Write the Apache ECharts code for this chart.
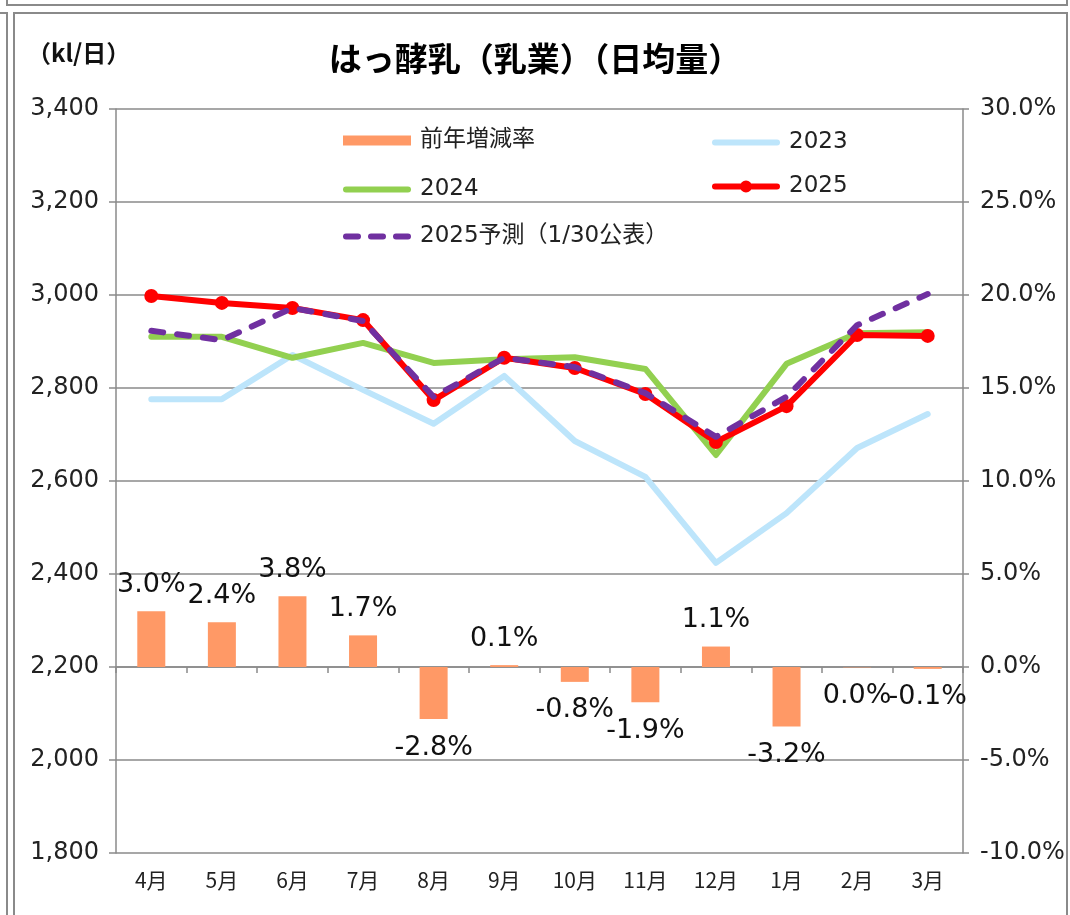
<!DOCTYPE html>
<html>
<head>
<meta charset="utf-8">
<script src="https://cdn.jsdelivr.net/npm/echarts@6/dist/echarts.min.js"></script>
<style>
html,body{margin:0;padding:0;background:#fff;}
#chart{width:1070px;height:915px;}
</style>
</head>
<body>
<div id="chart"></div>
<script>
// ---- data ----
const categories = ['4月','5月','6月','7月','8月','9月','10月','11月','12月','1月','2月','3月'];
const rateChange = [3.0, 2.4, 3.8, 1.7, -2.8, 0.1, -0.8, -1.9, 1.1, -3.2, -0.02, -0.1];
const y2023 = [2776, 2776, 2871, 2796, 2723, 2826, 2686, 2609, 2424, 2531, 2671, 2744];
const y2024 = [2910, 2910, 2865, 2897, 2854, 2862, 2866, 2841, 2656, 2852, 2918, 2920];
const y2025 = [2998, 2983, 2972, 2946, 2774, 2865, 2843, 2787, 2684, 2761, 2914, 2912];
const forecast2025 = [2923, 2903, 2972, 2944, 2781, 2865, 2845, 2789, 2695, 2781, 2935, 3002];
const leftTicks = {min: 1800, max: 3400, interval: 200};
const rightTicks = {min: -10, max: 30, interval: 5};
const names = ['前年増減率', '2023', '2024', '2025', '2025予測（1/30公表）'];

const FONT = 'DejaVu Sans, Noto Sans CJK JP, sans-serif';
const GRAY = '#8a8a8a';
const chart = echarts.init(document.getElementById('chart'));

const barData = rateChange.map(v => ({
  value: v,
  label: v >= 0 ? {position: 'top', distance: 13} : {position: 'bottom', distance: 15}
}));

// legend icon shapes
const ICON_LINE = 'path://M3,0H65A3,3 0 0 1 65,6H3A3,3 0 0 1 3,0Z';
const ICON_DASH = 'path://M3,0H15A3,3 0 0 1 15,6H3A3,3 0 0 1 3,0Z' +
  'M28,0H40A3,3 0 0 1 40,6H28A3,3 0 0 1 28,0Z' +
  'M53,0H65A3,3 0 0 1 65,6H53A3,3 0 0 1 53,0Z';
const ICON_MARK = 'path://M3,3H65A3,3 0 0 1 65,9H3A3,3 0 0 1 3,3Z' +
  'M28,6A6,6 0 1 1 40,6A6,6 0 1 1 28,6Z';

function legendItem(name, left, centerY, h, icon) {
  return {
    data: [{name: name, icon: icon}], left: left, top: centerY - h / 2 - 5, padding: 0,
    itemWidth: 68, itemHeight: h, selectedMode: false,
    textStyle: {fontFamily: FONT, fontSize: 23, color: '#222', padding: [0, 0, 0, 4]}
  };
}

chart.setOption({
  animation: false,
  backgroundColor: '#fff',
  title: [
    {text: 'はっ酵乳（乳業）（日均量）', left: 'center', top: 37,
     textStyle: {fontFamily: 'Noto Sans CJK JP', fontWeight: 'bold', fontSize: 33, color: '#000'}},
    {text: '（kl/日）', left: 22, top: 36,
     textStyle: {fontFamily: 'Noto Sans CJK JP', fontWeight: 'bold', fontSize: 24, color: '#111'}}
  ],
  graphic: [
    {type: 'polyline', shape: {points: [[7,0],[7,5],[1067,5],[1067,0]]}, style: {stroke: GRAY, lineWidth: 2, fill: null}, silent: true},
    {type: 'polyline', shape: {points: [[0,13],[7,13],[7,915]]}, style: {stroke: GRAY, lineWidth: 2, fill: null}, silent: true},
    {type: 'rect', shape: {x: 14, y: 13, width: 1053, height: 910}, style: {stroke: GRAY, lineWidth: 2, fill: null}, silent: true}
  ],
  legend: [
    legendItem(names[0], 343, 139, 10, 'rect'),
    legendItem(names[1], 712, 139, 6, ICON_LINE),
    legendItem(names[2], 343, 186, 6, ICON_LINE),
    legendItem(names[3], 712, 186, 12, ICON_MARK),
    legendItem(names[4], 343, 233, 6, ICON_DASH)
  ],
  grid: {left: 116, right: 107, top: 109, bottom: 62},
  xAxis: {
    type: 'category', data: categories, boundaryGap: true,
    axisLine: {lineStyle: {color: GRAY, width: 1.5}},
    axisTick: {show: true, length: 6, lineStyle: {color: GRAY, width: 1.5}},
    axisLabel: {fontFamily: 'Noto Sans CJK JP', fontSize: 21, color: '#222', margin: 17}
  },
  yAxis: [
    {type: 'value', min: leftTicks.min, max: leftTicks.max, interval: leftTicks.interval,
     axisLine: {show: true, lineStyle: {color: GRAY, width: 1.5}},
     axisTick: {show: true, length: 7, lineStyle: {color: GRAY, width: 1.5}},
     splitLine: {show: true, lineStyle: {color: GRAY, width: 1.5}},
     axisLabel: {fontFamily: FONT, fontSize: 24, color: '#222', margin: 17,
       formatter: v => v.toLocaleString('en-US')}},
    {type: 'value', min: rightTicks.min, max: rightTicks.max, interval: rightTicks.interval,
     axisLine: {show: true, lineStyle: {color: GRAY, width: 1.5}},
     axisTick: {show: true, length: 6, lineStyle: {color: GRAY, width: 1.5}},
     splitLine: {show: false},
     axisLabel: {fontFamily: FONT, fontSize: 24, color: '#222', margin: 17,
       formatter: v => v.toFixed(1) + '%'}}
  ],
  series: [
    {name: names[0], type: 'bar', yAxisIndex: 1, data: barData, barWidth: 28,
     itemStyle: {color: '#FF9966'},
     label: {show: true, fontFamily: FONT, fontSize: 27, color: '#111',
       formatter: p => {let s = p.value.toFixed(1); if (s === '-0.0') s = '0.0'; return s + '%';}},
     z: 1},
    {name: names[1], type: 'line', yAxisIndex: 0, data: y2023, symbol: 'none',
     lineStyle: {color: '#BDE5FB', width: 6, cap: 'round', join: 'round'}, itemStyle: {color: '#BDE5FB'}, z: 2},
    {name: names[2], type: 'line', yAxisIndex: 0, data: y2024, symbol: 'none',
     lineStyle: {color: '#92D050', width: 6, cap: 'round', join: 'round'}, itemStyle: {color: '#92D050'}, z: 3},
    {name: names[3], type: 'line', yAxisIndex: 0, data: y2025, symbol: 'circle', symbolSize: 14,
     lineStyle: {color: '#FF0000', width: 6, join: 'round'}, itemStyle: {color: '#FF0000'}, z: 4},
    {name: names[4], type: 'line', yAxisIndex: 0, data: forecast2025, symbol: 'none',
     lineStyle: {color: '#7030A0', width: 6, type: [12, 14], cap: 'round', join: 'round'}, itemStyle: {color: '#7030A0'}, z: 5}
  ]
});
</script>
</body>
</html>
